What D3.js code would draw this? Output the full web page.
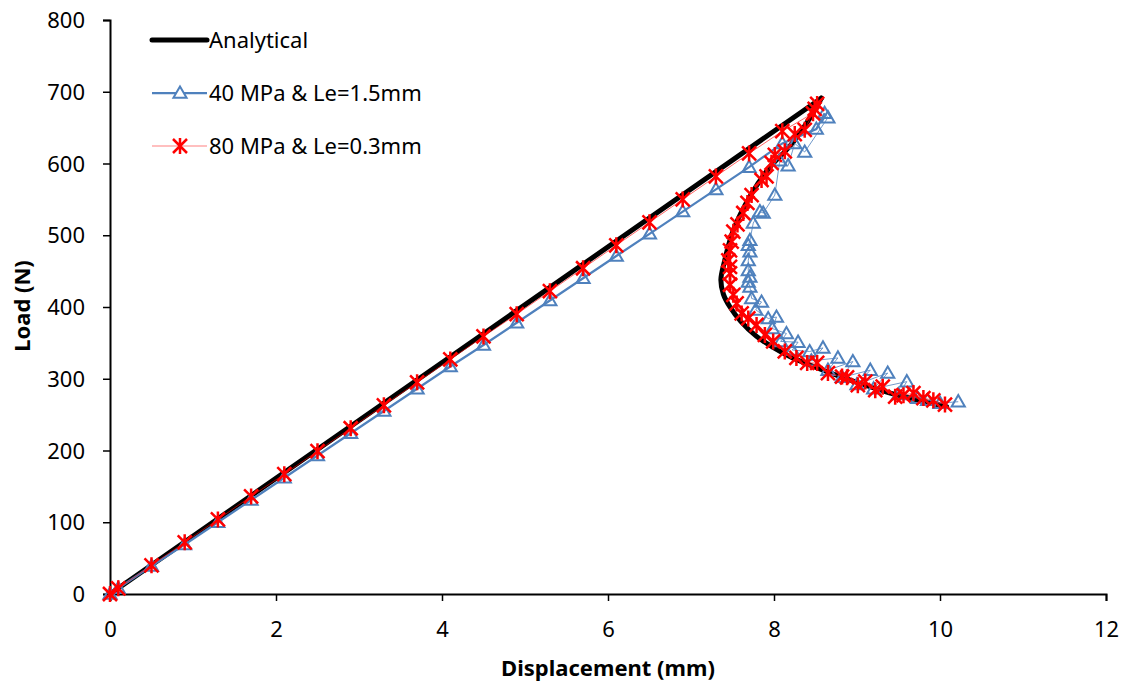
<!DOCTYPE html>
<html><head><meta charset="utf-8">
<script src="https://cdn.jsdelivr.net/npm/d3@7"></script>
<style>body{margin:0;background:#fff}svg{display:block}text{font-family:"Noto Sans","Open Sans",sans-serif}</style>
</head><body>
<svg id="c" width="1132" height="687"></svg>
<script>
// ---- data ----
const xTicks = [0, 2, 4, 6, 8, 10, 12];
const yTicks = [0, 100, 200, 300, 400, 500, 600, 700, 800];
const seriesNames = ["Analytical", "40 MPa & Le=1.5mm", "80 MPa & Le=0.3mm"];

const analyticalDisp = [0, 8.57, 8.43, 8.19, 7.95, 7.71, 7.51, 7.40, 7.36, 7.39, 7.47, 7.60, 7.79, 8.00, 8.19, 8.50, 8.80, 9.10, 9.40, 9.75, 10.08];
const analyticalLoad = [0, 691, 663, 624, 595, 554, 507, 462, 438, 418, 400, 380, 359, 343, 331, 316, 303, 291, 280, 270, 261];

const blueMainDisp = [0, 0.1, 0.5, 0.9, 1.3, 1.7, 2.1, 2.5, 2.9, 3.3, 3.7, 4.1, 4.5, 4.9, 5.3, 5.7, 6.1, 6.5, 6.9, 7.3, 7.7, 8.1, 8.51, 8.61];
const blueMainLoad = [0, 8, 39, 69, 100, 131, 162, 193, 224, 255, 286, 317, 347, 378, 409, 440, 471, 502, 533, 564, 595, 628, 648, 670];
const blueSnapDisp = [8.61, 8.65, 8.37, 8.25, 8.17, 8.07, 8.01, 7.87, 7.83, 7.75, 7.71, 7.69, 7.71, 7.69, 7.69, 7.71, 7.69, 7.71, 7.73, 7.85, 7.78, 7.93, 8.03, 7.98, 8.15, 8.08, 8.29, 8.22, 8.43, 8.59, 8.45, 8.77, 8.65, 8.95, 8.82, 9.16, 9.00, 9.37, 9.20, 9.60, 9.50, 9.73, 9.85, 10.00, 10.22];
const blueSnapLoad = [670, 664, 616, 628, 597, 604, 556, 531, 533, 517, 493, 486, 477, 465, 451, 442, 435, 428, 412, 407, 396, 384, 386, 370, 363, 352, 351, 340, 338, 343, 325, 329, 312, 324, 302, 312, 292, 308, 286, 296, 278, 273, 270, 266, 268];

const redDisp = [0, 0.1, 0.5, 0.9, 1.3, 1.7, 2.1, 2.5, 2.9, 3.3, 3.7, 4.1, 4.5, 4.9, 5.3, 5.7, 6.1, 6.5, 6.9, 7.3, 7.7, 8.1, 8.47, 8.52, 8.49, 8.37, 8.25, 8.13, 8.01, 7.97, 7.91, 7.85, 7.73, 7.68, 7.63, 7.56, 7.51, 7.49, 7.47, 7.45, 7.47, 7.47, 7.47, 7.51, 7.55, 7.61, 7.69, 7.79, 7.89, 7.99, 8.13, 8.27, 8.40, 8.52, 8.65, 8.82, 8.88, 9.01, 9.10, 9.22, 9.31, 9.46, 9.56, 9.68, 9.80, 9.92, 10.06];
const redLoad = [0, 8, 40, 72, 104, 136, 167, 199, 231, 263, 295, 327, 359, 390, 422, 454, 486, 518, 550, 582, 614, 645, 670, 683, 676, 647, 641, 617, 612, 601, 582, 577, 556, 545, 531, 515, 505, 491, 479, 465, 456, 447, 431, 417, 405, 391, 384, 375, 361, 352, 338, 329, 322, 322, 308, 303, 302, 291, 296, 284, 289, 275, 277, 280, 273, 270, 264];

// ---- chart ----
const svg = d3.select("#c");
const x = d3.scaleLinear().domain([0, 12]).range([110, 1106]);
const y = d3.scaleLinear().domain([0, 800]).range([594, 20]);
const BLUE = "#4F81BD", RED = "#FF0000";

const zip = (a, b) => a.map((v, i) => [v, b[i]]);
const line = d3.line().x(d => x(d[0])).y(d => y(d[1]));
const curve = d3.line().x(d => x(d[0])).y(d => y(d[1])).curve(d3.curveCatmullRom.alpha(0.5));

// axes
const xAxis = svg.append("g").attr("transform", `translate(0,${y(0)})`)
  .call(d3.axisBottom(x).tickValues(xTicks).tickFormat(d3.format("d")).tickSize(7).tickPadding(20));
const yAxis = svg.append("g").attr("transform", `translate(${x(0)},0)`)
  .call(d3.axisLeft(y).tickValues(yTicks).tickFormat(d3.format("d")).tickSize(7).tickPadding(18));
[xAxis, yAxis].forEach(g => {
  g.select(".domain").attr("stroke", "#000").attr("stroke-width", 2);
  g.selectAll(".tick line").attr("stroke", "#000").attr("stroke-width", 1.5);
  g.selectAll(".tick text").attr("fill", "#000").style("font-size", "22px").style("font-family", '"Noto Sans","Open Sans",sans-serif');
});
yAxis.selectAll(".tick text").attr("dy", "0.35em");

svg.append("text").attr("x", 608).attr("y", 676).attr("text-anchor", "middle")
  .style("font-size", "22px").style("font-weight", "bold").text("Displacement (mm)");
svg.append("text").attr("transform", "translate(30,306) rotate(-90)").attr("text-anchor", "middle")
  .style("font-size", "22px").style("font-weight", "bold").text("Load (N)");

// analytical
const an = zip(analyticalDisp, analyticalLoad);
svg.append("path").attr("d", line(an.slice(0, 2))).attr("fill", "none").attr("stroke", "#000").attr("stroke-width", 5).attr("stroke-linecap", "round");
svg.append("path").attr("d", curve(an.slice(1))).attr("fill", "none").attr("stroke", "#000").attr("stroke-width", 5).attr("stroke-linecap", "round").attr("stroke-linejoin", "round");

// blue
const bMain = zip(blueMainDisp, blueMainLoad), bSnap = zip(blueSnapDisp, blueSnapLoad);
svg.append("path").attr("d", line(bMain)).attr("fill", "none").attr("stroke", BLUE).attr("stroke-width", 2.25);
svg.append("path").attr("d", line(bSnap)).attr("fill", "none").attr("stroke", BLUE).attr("stroke-width", 1).attr("stroke-opacity", 0.8);
const tri = d3.symbol().type(d3.symbolTriangle).size(75);
svg.append("g").selectAll("path").data(bMain.concat(bSnap.slice(1))).join("path")
  .attr("d", tri).attr("transform", d => `translate(${x(d[0])},${y(d[1]) + 1})`)
  .attr("fill", "none").attr("stroke", BLUE).attr("stroke-width", 2);

// red
const rd = zip(redDisp, redLoad);
svg.append("path").attr("d", line(rd)).attr("fill", "none").attr("stroke", RED).attr("stroke-width", 1).attr("stroke-opacity", 0.6);
const star = "M-7,-7L7,7M-7,7L7,-7M0,-8L0,8";
svg.append("g").selectAll("path").data(rd).join("path")
  .attr("d", star).attr("transform", d => `translate(${x(d[0])},${y(d[1])})`)
  .attr("fill", "none").attr("stroke", RED).attr("stroke-width", 2.5);

// legend
const lg = svg.append("g");
const rows = [40, 93, 146];
lg.append("line").attr("x1", 152).attr("x2", 207).attr("y1", rows[0]).attr("y2", rows[0]).attr("stroke", "#000").attr("stroke-width", 5).attr("stroke-linecap", "round");
lg.append("line").attr("x1", 152).attr("x2", 207).attr("y1", rows[1]).attr("y2", rows[1]).attr("stroke", BLUE).attr("stroke-width", 2.25);
lg.append("path").attr("d", tri).attr("transform", `translate(180,${rows[1] + 1})`).attr("fill", "#fff").attr("stroke", BLUE).attr("stroke-width", 2);
lg.append("line").attr("x1", 152).attr("x2", 207).attr("y1", rows[2]).attr("y2", rows[2]).attr("stroke", RED).attr("stroke-width", 1).attr("stroke-opacity", 0.5);
lg.append("path").attr("d", star).attr("transform", `translate(180,${rows[2]})`).attr("fill", "none").attr("stroke", RED).attr("stroke-width", 2.5);
lg.selectAll("text").data(seriesNames).join("text")
  .attr("x", 209).attr("y", (d, i) => rows[i]).attr("dy", "0.35em")
  .style("font-size", "22px").attr("fill", "#000").text(d => d);
</script>
</body></html>
